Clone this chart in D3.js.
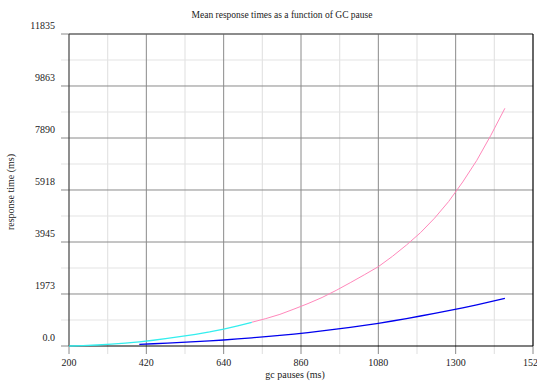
<!DOCTYPE html>
<html><head><meta charset="utf-8">
<script src="https://cdn.jsdelivr.net/npm/d3@7/dist/d3.min.js"></script>
<style>body{margin:0;background:#fff}svg{display:block}</style>
</head><body><svg id="c" width="537" height="382"></svg>
<script>
const title = "Mean response times as a function of GC pause";
const xLabel = "gc pauses (ms)";
const yLabel = "response time (ms)";
const xTicks = [200, 420, 640, 860, 1080, 1300, 1520];
const yTicks = [0, 1973, 3945, 5918, 7890, 9863, 11835];
const yTickLabels = ["0.0", "1973", "3945", "5918", "7890", "9863", "11835"];

const cyanX = [200, 240, 280, 320, 360, 400, 440, 480, 520, 560, 600, 640, 680, 720];
const cyanY = [0, 18, 38, 68, 108, 158, 218, 288, 362, 445, 535, 640, 765, 900];

const pinkX = [720, 760, 800, 840, 880, 920, 960, 1000, 1040, 1080, 1120, 1160, 1200, 1240, 1280, 1320, 1360, 1400, 1440];
const pinkY = [900, 1040, 1200, 1400, 1610, 1840, 2110, 2400, 2700, 3009, 3400, 3830, 4300, 4850, 5480, 6220, 7040, 7990, 9017];

const blueX = [400, 440, 480, 520, 560, 600, 640, 680, 720, 760, 800, 840, 880, 920, 960, 1000, 1040, 1080, 1120, 1160, 1200, 1240, 1280, 1320, 1360, 1400, 1440];
const blueY = [64, 85, 108, 134, 163, 194, 228, 268, 312, 355, 400, 453, 510, 573, 640, 708, 780, 860, 948, 1040, 1138, 1238, 1340, 1450, 1560, 1680, 1810];

const FONT = '"Liberation Serif", "Times New Roman", Times, "DejaVu Serif", "Noto Serif", serif';
const svg = d3.select("#c");
const L = 69, R = 533, T = 34, B = 346;
const x = d3.scaleLinear().domain([200, 1520]).range([L, R]);
const y = d3.scaleLinear().domain([0, 11835]).range([B, T]);

const xMinor = d3.range(xTicks.length - 1).map(i => (xTicks[i] + xTicks[i + 1]) / 2);
const yMinor = d3.range(yTicks.length - 1).map(i => (yTicks[i] + yTicks[i + 1]) / 2);
const g = svg.append("g");
g.selectAll(".mx").data(xMinor).join("line")
  .attr("x1", d => x(d)).attr("x2", d => x(d)).attr("y1", T).attr("y2", B + 8)
  .attr("stroke", "#e4e4e4").attr("stroke-width", 1.2);
g.selectAll(".my").data(yMinor).join("line")
  .attr("y1", d => y(d)).attr("y2", d => y(d)).attr("x1", L - 8).attr("x2", R)
  .attr("stroke", "#e4e4e4").attr("stroke-width", 1.2);
g.selectAll(".Mx").data(xTicks.slice(1, -1)).join("line")
  .attr("x1", d => x(d)).attr("x2", d => x(d)).attr("y1", T).attr("y2", B + 8)
  .attr("stroke", "#8a8a8a").attr("stroke-width", 1);
g.selectAll(".My").data(yTicks.slice(1)).join("line")
  .attr("y1", d => y(d)).attr("y2", d => y(d)).attr("x1", L - 8).attr("x2", R)
  .attr("stroke", "#8a8a8a").attr("stroke-width", 1);
g.append("line").attr("x1", L - 8).attr("x2", L).attr("y1", B).attr("y2", B).attr("stroke", "#8a8a8a");
g.append("line").attr("x1", L).attr("x2", L).attr("y1", B).attr("y2", B + 8).attr("stroke", "#8a8a8a");
g.append("line").attr("x1", R).attr("x2", R).attr("y1", B).attr("y2", B + 8).attr("stroke", "#8a8a8a");
g.append("line").attr("x1", L).attr("x2", R).attr("y1", T).attr("y2", T).attr("stroke", "#555").attr("stroke-width", 1.2);
g.append("line").attr("x1", L).attr("x2", L).attr("y1", T).attr("y2", B).attr("stroke", "#444").attr("stroke-width", 1.2);
g.append("line").attr("x1", R).attr("x2", R).attr("y1", T).attr("y2", B).attr("stroke", "#000").attr("stroke-width", 1.2);
g.append("line").attr("x1", L).attr("x2", R).attr("y1", B).attr("y2", B).attr("stroke", "#000").attr("stroke-width", 1.2);

function txt(sel, s) { return sel.attr("font-family", FONT).attr("font-size", s || 10).attr("fill", "#222"); }
txt(svg.selectAll(".xt").data(xTicks).join("text"))
  .attr("x", d => x(d)).attr("y", 366).attr("text-anchor", "middle").text(d => d);
txt(svg.selectAll(".yt").data(yTicks).join("text"))
  .attr("x", 55).attr("y", d => y(d) - 5).attr("text-anchor", "end")
  .text((d, i) => yTickLabels[i]);
txt(svg.append("text"), 9.5).attr("x", 282).attr("y", 18).attr("text-anchor", "middle").text(title);
txt(svg.append("text")).attr("x", 295).attr("y", 378).attr("text-anchor", "middle").text(xLabel);
txt(svg.append("text")).attr("transform", "translate(14,192) rotate(-90)").attr("text-anchor", "middle").text(yLabel);

const line = d3.line().x(d => x(d[0])).y(d => y(d[1]));
function draw(xs, ys, color, w) {
  svg.append("path").datum(xs.map((v, i) => [v, ys[i]]))
    .attr("d", line).attr("fill", "none").attr("stroke", color).attr("stroke-width", w);
}
draw(pinkX, pinkY, "#ff88bb", 1);
draw(blueX, blueY, "#0000ee", 1.3);
draw(cyanX, cyanY, "#33eeee", 1.3);
</script></body></html>
